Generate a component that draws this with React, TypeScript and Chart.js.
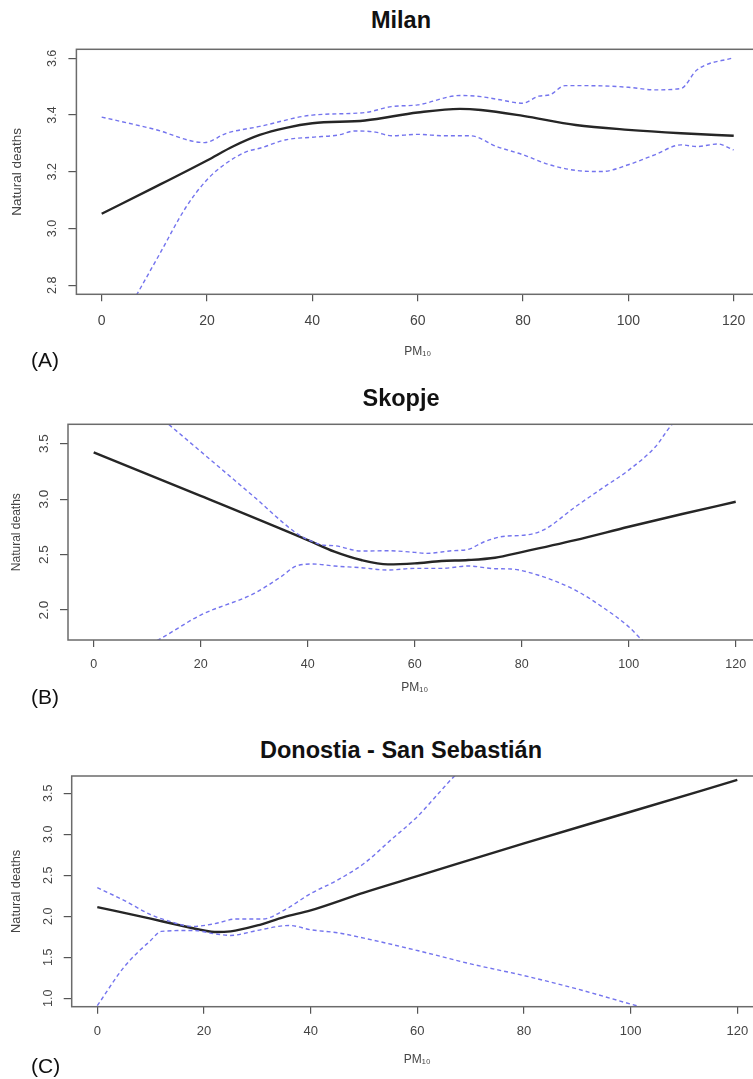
import React, { useEffect, useRef } from "react";
import { Chart, registerables } from "chart.js";

Chart.register(...registerables);

// ---------- data ----------
const panelTitles = ["Milan", "Skopje", "Donostia - San Sebastián"];
const panelLetters = ["(A)", "(B)", "(C)"];
const xTicks = [0, 20, 40, 60, 80, 100, 120];
const yTitle = "Natural deaths";
const xTitle = "PM₁₀";

// Milan
const milanYTicks = [2.8, 3.0, 3.2, 3.4, 3.6];
const milanFitX = [0, 10, 20, 25, 30, 35, 40, 50, 60, 68, 72, 80, 90, 100, 110, 120];
const milanFitY = [3.052, 3.145, 3.24, 3.29, 3.33, 3.355, 3.371, 3.381, 3.409, 3.422, 3.418, 3.397, 3.365, 3.348, 3.336, 3.327];
const milanUpX = [0, 10, 19.5, 23.7, 30, 40, 50, 55, 60, 68, 72, 75, 80, 83, 85, 88, 95, 100, 105, 110, 113, 120];
const milanUpY = [3.393, 3.35, 3.303, 3.336, 3.36, 3.4, 3.409, 3.43, 3.436, 3.469, 3.465, 3.456, 3.442, 3.467, 3.471, 3.504, 3.503, 3.498, 3.489, 3.494, 3.559, 3.603];
const milanLoX = [0, 7, 11, 16, 20, 23.7, 27.5, 30, 35, 40, 45, 48, 52, 55, 60, 65, 70, 75, 80, 85, 90, 95, 100, 105, 110, 113, 117, 120];
const milanLoY = [2.55, 2.778, 2.91, 3.075, 3.172, 3.231, 3.271, 3.283, 3.313, 3.322, 3.33, 3.344, 3.34, 3.327, 3.332, 3.327, 3.327, 3.289, 3.26, 3.225, 3.205, 3.201, 3.225, 3.26, 3.295, 3.289, 3.298, 3.277];

// Skopje
const skopjeYTicks = [2.0, 2.5, 3.0, 3.5];
const skopjeFitX = [0, 20, 40, 45, 50, 55, 60, 65, 70, 75, 80, 90, 100, 110, 120];
const skopjeFitY = [3.422, 3.03, 2.631, 2.526, 2.451, 2.412, 2.421, 2.442, 2.451, 2.472, 2.523, 2.631, 2.751, 2.866, 2.977];
const skopjeUpX = [0, 14, 20, 30, 38, 41, 43, 45, 50, 55, 60, 62, 67, 70, 73, 77, 80, 84, 90, 95, 100, 105, 108, 115, 120];
const skopjeUpY = [4.24, 3.675, 3.43, 3.02, 2.69, 2.615, 2.585, 2.58, 2.532, 2.535, 2.52, 2.511, 2.535, 2.547, 2.616, 2.667, 2.673, 2.72, 2.93, 3.097, 3.262, 3.473, 3.668, 3.95, 4.2];
const skopjeLoX = [0, 12, 20, 30, 35, 38, 41, 45, 50, 55, 60, 65, 70, 75, 78, 83, 90, 95, 100, 102.5, 110, 120];
const skopjeLoY = [1.46, 1.73, 1.955, 2.15, 2.3, 2.4, 2.415, 2.397, 2.382, 2.361, 2.376, 2.376, 2.397, 2.373, 2.37, 2.316, 2.18, 2.03, 1.85, 1.73, 1.5, 1.2];

// Donostia - San Sebastián
const donostiaYTicks = [1.0, 1.5, 2.0, 2.5, 3.0, 3.5];
const donostiaFitX = [0, 10, 15, 20, 22, 25, 30, 35, 40, 50, 60, 80, 100, 120];
const donostiaFitY = [2.113, 1.971, 1.897, 1.828, 1.808, 1.816, 1.889, 1.991, 2.073, 2.29, 2.49, 2.89, 3.275, 3.663];
const donostiaUpX = [0, 5, 10, 13, 18, 22, 26, 31, 35, 40, 45, 50, 55, 60, 64, 67, 75];
const donostiaUpY = [2.35, 2.195, 2.02, 1.95, 1.877, 1.91, 1.967, 1.967, 2.073, 2.277, 2.44, 2.644, 2.929, 3.215, 3.5, 3.712, 4.15];
const donostiaLoX = [0, 5, 10, 12, 18, 22, 25, 30, 36, 40, 45, 50, 60, 70, 80, 90, 100, 110, 120];
const donostiaLoY = [0.91, 1.38, 1.706, 1.816, 1.828, 1.787, 1.767, 1.828, 1.889, 1.836, 1.8, 1.734, 1.583, 1.42, 1.277, 1.114, 0.93, 0.75, 0.58];

// ---------- layout ----------
const FONT = "'Liberation Sans', Arial, Helvetica, sans-serif";
const CANVAS_W = 800;

type Panel = {
  top: number; height: number; chartTop: number; chartBottom: number; chartLeft: number; chartRight: number;
  xMin: number; xMax: number; yMin: number; yMax: number; yTicks: number[];
  fitX: number[]; fitY: number[]; upX: number[]; upY: number[]; loX: number[]; loY: number[];
  xTickSize: number; xTickPad: number; yTickSize: number; yTickPad: number;
  yTitleSize: number; yTitlePad: number; xTitlePad: number;
  titleY: number; letterY: number;
};

const panels: Panel[] = [
  {
    top: 40, height: 330, chartTop: 49.3, chartBottom: 294.3, chartLeft: 76.4, chartRight: 759,
    xMin: -4.8, xMax: 124.8, yMin: 2.768, yMax: 3.632, yTicks: milanYTicks,
    fitX: milanFitX, fitY: milanFitY, upX: milanUpX, upY: milanUpY, loX: milanLoX, loY: milanLoY,
    xTickSize: 14, xTickPad: 11, yTickSize: 12.5, yTickPad: 7.5, yTitleSize: 13.5, yTitlePad: 9, xTitlePad: 11,
    titleY: 20, letterY: 360,
  },
  {
    top: 410, height: 300, chartTop: 424.3, chartBottom: 640, chartLeft: 68, chartRight: 761.4,
    xMin: -4.8, xMax: 124.8, yMin: 1.73, yMax: 3.675, yTicks: skopjeYTicks,
    fitX: skopjeFitX, fitY: skopjeFitY, upX: skopjeUpX, upY: skopjeUpY, loX: skopjeLoX, loY: skopjeLoY,
    xTickSize: 12.5, xTickPad: 10, yTickSize: 13.5, yTickPad: 6, yTitleSize: 12, yTitlePad: 9, xTitlePad: 14.8,
    titleY: 398, letterY: 697,
  },
  {
    top: 770, height: 309, chartTop: 776, chartBottom: 1006.7, chartLeft: 71.7, chartRight: 762.9,
    xMin: -4.8, xMax: 124.8, yMin: 0.898, yMax: 3.711, yTicks: donostiaYTicks,
    fitX: donostiaFitX, fitY: donostiaFitY, upX: donostiaUpX, upY: donostiaUpY, loX: donostiaLoX, loY: donostiaLoY,
    xTickSize: 13, xTickPad: 10, yTickSize: 12.5, yTickPad: 6.5, yTitleSize: 12.8, yTitlePad: 9, xTitlePad: 11.8,
    titleY: 750, letterY: 1066,
  },
];

const zip = (xs: number[], ys: number[]) => xs.map((x, i) => ({ x, y: ys[i] }));

const boxPlugin = {
  id: "rbox",
  afterDraw(chart: any) {
    const { ctx, chartArea: a } = chart;
    ctx.save();
    ctx.strokeStyle = "#6b6b6b";
    ctx.lineWidth = 1.5;
    ctx.strokeRect(a.left, a.top, a.right - a.left, a.bottom - a.top);
    ctx.restore();
  },
};

function PanelChart({ p }: { p: Panel }) {
  const ref = useRef<HTMLCanvasElement | null>(null);
  useEffect(() => {
    if (!ref.current) return;
    const dashed = {
      borderColor: "#7474ee",
      borderWidth: 1.4,
      borderDash: [4, 3],
      pointRadius: 0,
      fill: false,
      cubicInterpolationMode: "monotone" as const,
    };
    const chart = new Chart(ref.current, {
      type: "line",
      data: {
        datasets: [
          { ...dashed, data: zip(p.upX, p.upY) },
          { ...dashed, data: zip(p.loX, p.loY) },
          {
            data: zip(p.fitX, p.fitY),
            borderColor: "#262626",
            borderWidth: 2.4,
            pointRadius: 0,
            fill: false,
            cubicInterpolationMode: "monotone",
          },
        ],
      },
      options: {
        animation: false,
        responsive: false,
        devicePixelRatio: 1,
        layout: {
          padding: { left: 0, right: CANVAS_W - p.chartRight, top: p.chartTop - p.top, bottom: 0 },
        },
        plugins: { legend: { display: false }, tooltip: { enabled: false }, title: { display: false } },
        scales: {
          x: {
            type: "linear",
            min: p.xMin,
            max: p.xMax,
            afterBuildTicks: (s: any) => { s.ticks = xTicks.map((v) => ({ value: v })); },
            afterFit: (s: any) => { s.height = p.top + p.height - p.chartBottom; s.paddingLeft = 0; s.paddingRight = 0; },
            grid: { display: true, drawOnChartArea: false, drawTicks: true, tickLength: 7, color: "#555", lineWidth: 1.2 },
            border: { display: false },
            ticks: {
              autoSkip: false, maxRotation: 0, minRotation: 0, padding: p.xTickPad, color: "#444",
              font: { family: FONT, size: p.xTickSize },
              callback: (v: any) => String(v),
            },
            title: {
              display: true, text: xTitle, color: "#444",
              font: { family: FONT, size: 12 }, padding: { top: 0, bottom: p.xTitlePad },
            },
          },
          y: {
            type: "linear",
            min: p.yMin,
            max: p.yMax,
            afterBuildTicks: (s: any) => { s.ticks = p.yTicks.map((v) => ({ value: v })); },
            afterFit: (s: any) => { s.width = p.chartLeft; s.paddingTop = 0; s.paddingBottom = 0; },
            grid: { display: true, drawOnChartArea: false, drawTicks: true, tickLength: 8, color: "#555", lineWidth: 1.2 },
            border: { display: false },
            ticks: {
              autoSkip: false, minRotation: 90, maxRotation: 90, crossAlign: "center", padding: p.yTickPad, color: "#444",
              font: { family: FONT, size: p.yTickSize },
              callback: (v: any) => Number(v).toFixed(1),
            },
            title: {
              display: true, text: yTitle, color: "#444",
              font: { family: FONT, size: p.yTitleSize }, padding: { top: p.yTitlePad, bottom: 0 },
            },
          },
        },
      },
      plugins: [boxPlugin],
    });
    return () => chart.destroy();
  }, [p]);
  return (
    <canvas
      ref={ref}
      width={CANVAS_W}
      height={p.height}
      style={{ position: "absolute", left: 0, top: p.top, width: CANVAS_W, height: p.height }}
    />
  );
}

export default function App() {
  return (
    <div
      style={{
        position: "fixed", left: 0, top: 0, width: 753, height: 1079,
        overflow: "hidden", background: "#fff",
      }}
    >
      {panels.map((p, i) => (
        <React.Fragment key={i}>
          <PanelChart p={p} />
          <div
            style={{
              position: "absolute", left: 0, width: 802, top: p.titleY - 13, textAlign: "center",
              font: `bold 23.5px ${FONT}`, lineHeight: "26px", color: "#111",
            }}
          >
            {panelTitles[i]}
          </div>
          <div
            style={{
              position: "absolute", left: 31, top: p.letterY - 12, font: `21px ${FONT}`,
              lineHeight: "24px", color: "#111",
            }}
          >
            {panelLetters[i]}
          </div>
        </React.Fragment>
      ))}
    </div>
  );
}
